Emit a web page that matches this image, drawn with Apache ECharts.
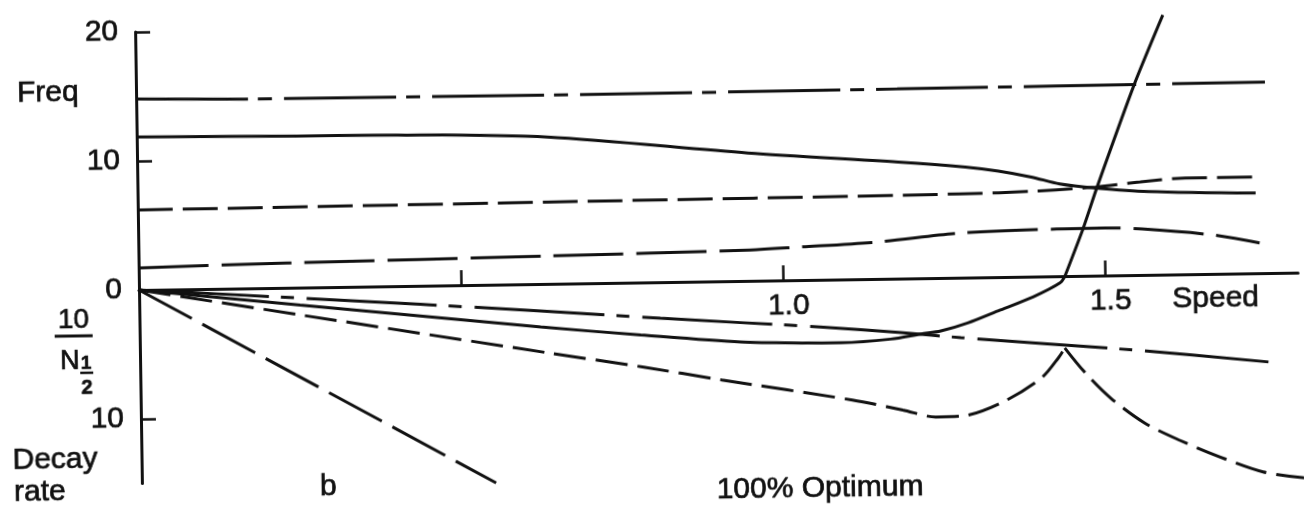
<!DOCTYPE html>
<html>
<head>
<meta charset="utf-8">
<script src="https://cdn.jsdelivr.net/npm/echarts@6.0.0/dist/echarts.min.js"></script>
<style>
  html, body { margin: 0; padding: 0; background: #fff; overflow: hidden; }
  /* the drawing sits very slightly tilted, turning about the axes' origin */
  #chart { width: 1330px; height: 545px; transform: rotate(-0.86deg); transform-origin: 139px 290px; }
</style>
</head>
<body>
<div id="chart"></div>
<script>
// Speed on x; frequency upward and decay rate 10/N½ downward (negative) on y.
const speedTicks = [0.5, 1.0, 1.5];
const speedLabels = [1.0, 1.5];
const valueTicks = [-10, 10, 20];
const valueLabels = [-10, 0, 10, 20];

// frequency branches
const freqDashDot = [[0, 14.81], [0.168, 14.68], [0.630, 14.64], [1.182, 14.70], [1.753, 14.81]];
const freqSolid = [[0, 11.86], [0.251, 11.75], [0.405, 11.71], [0.638, 11.38], [0.949, 9.91], [1.182, 9.04],
  [1.286, 8.57], [1.337, 8.22], [1.388, 7.72], [1.432, 7.15], [1.488, 6.79], [1.570, 6.46], [1.736, 6.22]];
const freqShortDash = [[0, 6.20], [0.638, 6.34], [1.275, 6.49], [1.399, 6.63], [1.488, 6.87], [1.557, 7.21],
  [1.627, 7.46], [1.736, 7.46]];
const freqLongDash = [[0, 1.71], [0.230, 1.92], [0.638, 2.16], [0.949, 2.39], [1.026, 2.56], [1.146, 2.86],
  [1.280, 3.46], [1.426, 3.66], [1.500, 3.68], [1.559, 3.56], [1.668, 3.02], [1.741, 2.34]];

// decay branches
const decaySolid = [[0, 0], [0.25, -1.35], [0.623, -3.33], [0.778, -4.07], [0.933, -4.73], [1.037, -4.88],
  [1.089, -4.90], [1.166, -4.68], [1.213, -4.32], [1.244, -4.11], [1.286, -3.52], [1.337, -2.55],
  [1.388, -1.58], [1.430, -0.53], [1.438, 0]];
const flutterRise = [[1.438, 0], [1.467, 3.63], [1.490, 6.87], [1.551, 14.89], [1.596, 20.12]];
const decayDashDot = [[0, 0], [0.25, -0.81], [0.623, -2.09], [0.809, -2.80], [1.057, -3.66], [1.182, -4.19],
  [1.275, -4.65], [1.543, -5.81], [1.752, -6.89]];
const decayDashedBefore = [[0, 0], [0.25, -2.12], [0.635, -5.36], [0.78, -6.55], [0.903, -7.65], [1.105, -9.36],
  [1.183, -10.19], [1.234, -10.77], [1.276, -10.72], [1.339, -9.68], [1.399, -7.87], [1.427, -6.26], [1.436, -5.57]];
const decayDashedAfter = [[1.436, -5.57], [1.466, -7.45], [1.506, -9.50], [1.558, -11.47], [1.611, -12.83],
  [1.674, -14.19], [1.741, -15.41], [1.806, -15.92]];
const decayB = [[0, 0], [0.550, -15.37]];

const INK = '#111';
const FONT = '"Liberation Sans", Arial, sans-serif';
const Y_MIN = -15, Y_MAX = 20;
const GRID = { left: 139, top: 32, width: 1159.2, height: 451.5 };
// lift the speed axis from the grid's bottom edge up to the zero line
const zeroOffset = -GRID.height * (0 - Y_MIN) / (Y_MAX - Y_MIN);

function curve(name, data, dash, smooth) {
  return {
    name, type: 'line', data, symbol: 'none', showSymbol: false,
    smooth: smooth === undefined ? 0.3 : smooth, clip: false, silent: true,
    lineStyle: { color: INK, width: 3, type: dash, cap: 'butt' }
  };
}

// lettering is drawn with a hairline outline in the same ink for a heavier stroke
function text(str, x, y, size, align, weight) {
  return {
    type: 'text', x, y, silent: true,
    style: {
      text: str, fill: INK, stroke: INK, lineWidth: 0.7,
      font: (weight || 'normal') + ' ' + size + 'px ' + FONT,
      align: align || 'left', verticalAlign: 'middle'
    }
  };
}

function bar(x1, x2, y, w) {
  return { type: 'line', silent: true, shape: { x1, y1: y, x2, y2: y }, style: { stroke: INK, lineWidth: w } };
}

const axisFont = {
  color: INK, fontFamily: FONT, fontSize: 30, lineHeight: 30,
  textBorderColor: INK, textBorderWidth: 0.7
};

const chart = echarts.init(document.getElementById('chart'), null, { renderer: 'canvas' });
chart.setOption({
  animation: false,
  backgroundColor: '#fff',
  grid: GRID,
  xAxis: {
    type: 'value', min: 0, max: 1.8, position: 'bottom', offset: zeroOffset,
    splitLine: { show: false },
    axisLine: { onZero: false, lineStyle: { color: INK, width: 3 } },
    axisTick: { show: true, inside: true, length: 15, customValues: speedTicks, lineStyle: { color: INK, width: 2.5 } },
    axisLabel: Object.assign({
      customValues: speedLabels, formatter: v => v.toFixed(1), margin: 11, padding: [0, 0, 0, 11]
    }, axisFont)
  },
  yAxis: {
    type: 'value', min: Y_MIN, max: Y_MAX,
    splitLine: { show: false },
    axisLine: { show: true, onZero: false, lineStyle: { color: INK, width: 3 } },
    axisTick: { show: true, inside: true, length: 15, customValues: valueTicks, lineStyle: { color: INK, width: 2.5 } },
    axisLabel: Object.assign({
      customValues: valueLabels, formatter: v => String(Math.abs(v)), margin: 17
    }, axisFont)
  },
  series: [
    curve('freq dash-dot', freqDashDot, [112, 10, 14, 12]),
    curve('freq solid', freqSolid, 'solid'),
    curve('freq short dash', freqShortDash, [35, 10]),
    curve('freq long dash', freqLongDash, [70, 13]),
    curve('decay solid', decaySolid, 'solid'),
    curve('flutter rise', flutterRise, 'solid', 0.2),
    curve('decay dash-dot', decayDashDot, [130, 12, 13, 13]),
    curve('decay dashed', decayDashedBefore, [32, 10]),
    curve('decay dashed, past cusp', decayDashedAfter, [32, 10]),
    curve('b', decayB, [60, 12], false)
  ],
  graphic: [
    text('Freq', 20, 92, 30),
    text('Speed', 1172, 314.5, 30),
    text('Decay', 10, 459, 30),
    text('rate', 11, 490.5, 30),
    text('b', 317, 490, 30),
    text('100% Optimum', 817, 498.5, 30, 'center'),
    text('10', 73, 319, 28, 'center'),
    bar(54, 92, 335, 3),
    text('N', 59, 361, 27),
    text('1', 85, 362.5, 19, 'center', 'bold'),
    bar(79, 92, 372, 2.5),
    text('2', 85.5, 387.5, 20, 'center', 'bold')
  ]
});
</script>
</body>
</html>
